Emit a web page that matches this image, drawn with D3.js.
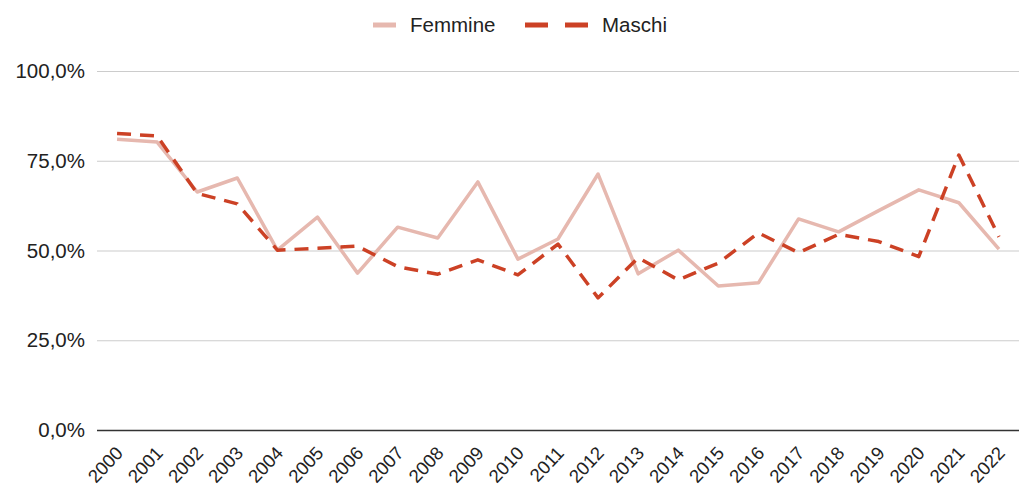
<!DOCTYPE html>
<html>
<head>
<meta charset="utf-8">
<script src="https://cdn.jsdelivr.net/npm/d3@7/dist/d3.min.js"></script>
<style>
  body { margin: 0; background: #fff; }
  svg { font-family: "Liberation Sans", Arial, sans-serif; }
</style>
</head>
<body>
<div id="chart"></div>
<script>
const years = ['2000','2001','2002','2003','2004','2005','2006','2007','2008','2009','2010','2011',
               '2012','2013','2014','2015','2016','2017','2018','2019','2020','2021','2022'];
const femmine = [81.0, 80.2, 66.3, 70.2, 50.1, 59.3, 43.7, 56.5, 53.5, 69.1, 47.6, 53.2,
                 71.3, 43.5, 50.1, 40.1, 41.0, 58.8, 55.2, 61.1, 66.9, 63.3, 50.4];
const maschi = [82.6, 81.9, 65.9, 63.0, 50.1, 50.6, 51.2, 45.5, 43.4, 47.4, 43.2, 51.8,
                36.8, 48.0, 41.8, 46.5, 54.9, 49.4, 54.5, 52.5, 48.3, 76.6, 53.8];
const yTicks = [0, 25, 50, 75, 100];

const width = 1019;
const height = 499;
const margin = {top: 71, right: 0, bottom: 69, left: 97};
const chartWidth = width - margin.left - margin.right;
const chartHeight = height - margin.top - margin.bottom;

const series = [
  {name: 'Femmine', values: femmine, colour: '#e6b8af', dash: null},
  {name: 'Maschi', values: maschi, colour: '#cc4125', dash: '14,9'}
];

const svg = d3.select('#chart')
  .append('svg')
    .attr('width', width)
    .attr('height', height);

const xScale = d3.scaleBand()
  .domain(years)
  .range([0, chartWidth]);

const yScale = d3.scaleLinear()
  .domain([0, 100])
  .range([chartHeight, 0]);

const fmt = v => v.toFixed(1).replace('.', ',') + '%';

const g = svg.append('g')
  .attr('transform', `translate(${margin.left}, ${margin.top})`);

// gridlines + y labels
const yAxis = g.append('g')
  .call(d3.axisLeft(yScale).tickValues(yTicks).tickSize(-chartWidth).tickFormat(fmt).tickPadding(12));
yAxis.select('.domain').remove();
yAxis.selectAll('.tick line')
  .attr('stroke', d => d === 0 ? '#333' : '#ccc')
  .attr('stroke-width', d => d === 0 ? 1.5 : 1.2);
yAxis.selectAll('.tick text')
  .attr('font-size', 20.5)
  .attr('fill', '#222')
  .attr('font-family', '"Liberation Sans", Arial, sans-serif');

// x axis labels
const xAxis = g.append('g')
  .attr('transform', `translate(0, ${chartHeight})`)
  .call(d3.axisBottom(xScale).tickSize(0).tickPadding(0));
xAxis.select('.domain').remove();
xAxis.selectAll('.tick text')
  .attr('font-size', 18.5)
  .attr('fill', '#222')
  .attr('font-family', '"Liberation Sans", Arial, sans-serif')
  .attr('text-anchor', 'end')
  .attr('dy', null)
  .attr('transform', 'translate(7, 24) rotate(-47)');

const line = d3.line()
  .x((d, i) => xScale(years[i]) + xScale.bandwidth() / 2)
  .y(d => yScale(d));

g.selectAll('path.series')
  .data(series)
  .enter()
    .append('path')
      .attr('class', 'series')
      .attr('fill', 'none')
      .attr('stroke', d => d.colour)
      .attr('stroke-width', 3.5)
      .attr('stroke-dasharray', d => d.dash)
      .attr('stroke-linejoin', 'round')
      .attr('d', d => line(d.values));

// legend
const legend = svg.append('g').attr('transform', 'translate(0, 25)');
const legendX = [373, 525];
const swatchW = [23, 63];
series.forEach((s, i) => {
  legend.append('line')
    .attr('x1', legendX[i])
    .attr('x2', legendX[i] + swatchW[i])
    .attr('y1', 0).attr('y2', 0)
    .attr('stroke', s.colour)
    .attr('stroke-width', 5)
    .attr('stroke-dasharray', s.dash ? '23,17' : null);
  legend.append('text')
    .attr('x', legendX[i] + swatchW[i] + 14)
    .attr('y', 0)
    .attr('dy', '0.35em')
    .attr('font-size', 20.5)
    .attr('fill', '#222')
    .text(s.name);
});
</script>
</body>
</html>
